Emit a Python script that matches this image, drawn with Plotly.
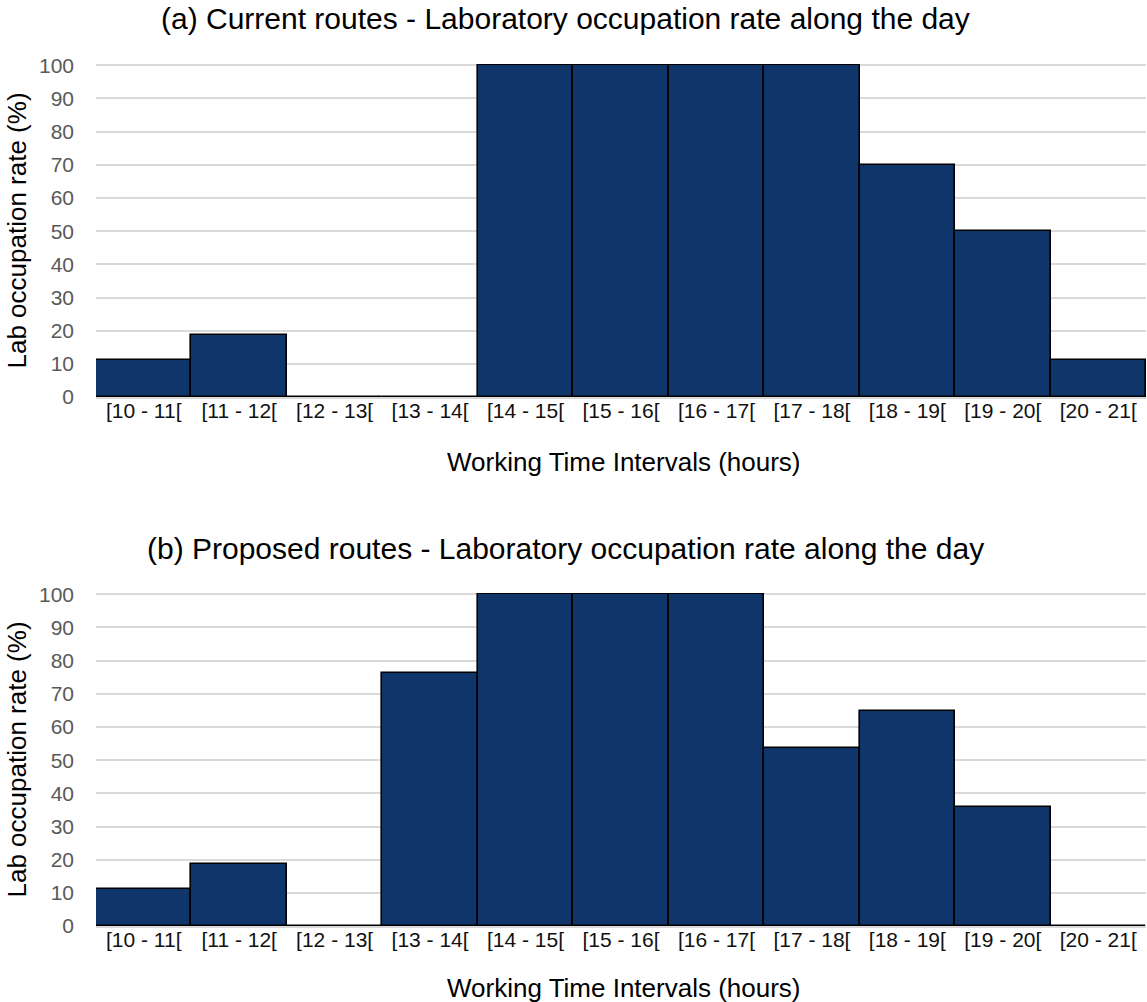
import plotly.graph_objects as go
from plotly.subplots import make_subplots

categories = ["[10 - 11[", "[11 - 12[", "[12 - 13[", "[13 - 14[", "[14 - 15[", "[15 - 16[",
              "[16 - 17[", "[17 - 18[", "[18 - 19[", "[19 - 20[", "[20 - 21["]
current_routes = [11.1, 18.6, 0, 0, 100, 100, 100, 100, 70, 50, 11.1]
proposed_routes = [11.1, 18.6, 0, 76.3, 100, 100, 100, 53.8, 64.9, 36.0, 0]
titles = ["(a) Current routes - Laboratory occupation rate along the day",
          "(b) Proposed routes - Laboratory occupation rate along the day"]
y_ticks = list(range(0, 101, 10))

W, H = 1147, 1002
L, R = 96, 1146
top_a, bot_a = 64, 397
top_b, bot_b = 593, 926
mt, mb = top_a, H - bot_b
ph = bot_b - top_a
pw = R - L

def px(x):
    return (x - L) / pw

def py(y):
    return (bot_b - y) / ph

fig = make_subplots(rows=2, cols=1)
bar_color = "#10356A"
for i, vals in enumerate([current_routes, proposed_routes]):
    fig.add_trace(go.Bar(x=categories, y=vals, marker=dict(color=bar_color,
                  line=dict(color="black", width=1.6)), showlegend=False), row=i + 1, col=1)

dom_a = [py(bot_a), 1.0]
dom_b = [0.0, py(top_b)]
FONT = "Liberation Sans, Arial"
tickfont_y = dict(family=FONT, size=21, color="#595959")
tickfont_x = dict(family=FONT, size=21, color="#111111")
for i, dom in enumerate([dom_a, dom_b]):
    ax = "" if i == 0 else "2"
    fig.layout["yaxis" + ax].update(domain=dom, range=[0, 100.4], tickvals=y_ticks,
        showgrid=True, gridcolor="#D9D9D9", gridwidth=1.5, zeroline=False,
        tickfont=tickfont_y, ticks="", automargin=False, ticklabelstandoff=21)
    fig.layout["xaxis" + ax].update(showgrid=False, showline=True, linecolor="#D9D9D9", linewidth=1.5,
        tickfont=tickfont_x, ticks="", automargin=False, ticklabelstandoff=-6)

fig.update_layout(width=W, height=H, bargap=0, plot_bgcolor="white", paper_bgcolor="white",
                  margin=dict(l=L, r=W - R, t=mt, b=mb))

for t, y in zip(titles, [18, 548]):
    fig.add_annotation(text=t, xref="paper", yref="paper", x=px(565), y=py(y),
                       showarrow=False, xanchor="center", yanchor="middle",
                       font=dict(family=FONT, size=30, color="black"))
for y in [462, 988]:
    fig.add_annotation(text="Working Time Intervals (hours)", xref="paper", yref="paper", x=px(624), y=py(y),
                       showarrow=False, xanchor="center", yanchor="middle",
                       font=dict(family=FONT, size=26, color="black"))
for y in [(top_a + bot_a) / 2, (top_b + bot_b) / 2]:
    fig.add_annotation(text="Lab occupation rate (%)", xref="paper", yref="paper", x=px(16), y=py(y),
                       showarrow=False, xanchor="center", yanchor="middle", textangle=-90,
                       font=dict(family=FONT, size=26, color="black"))

fig.write_html("out.html", config={"displayModeBar": False},
               post_script="document.body.style.margin='0';document.body.style.overflow='hidden';")
